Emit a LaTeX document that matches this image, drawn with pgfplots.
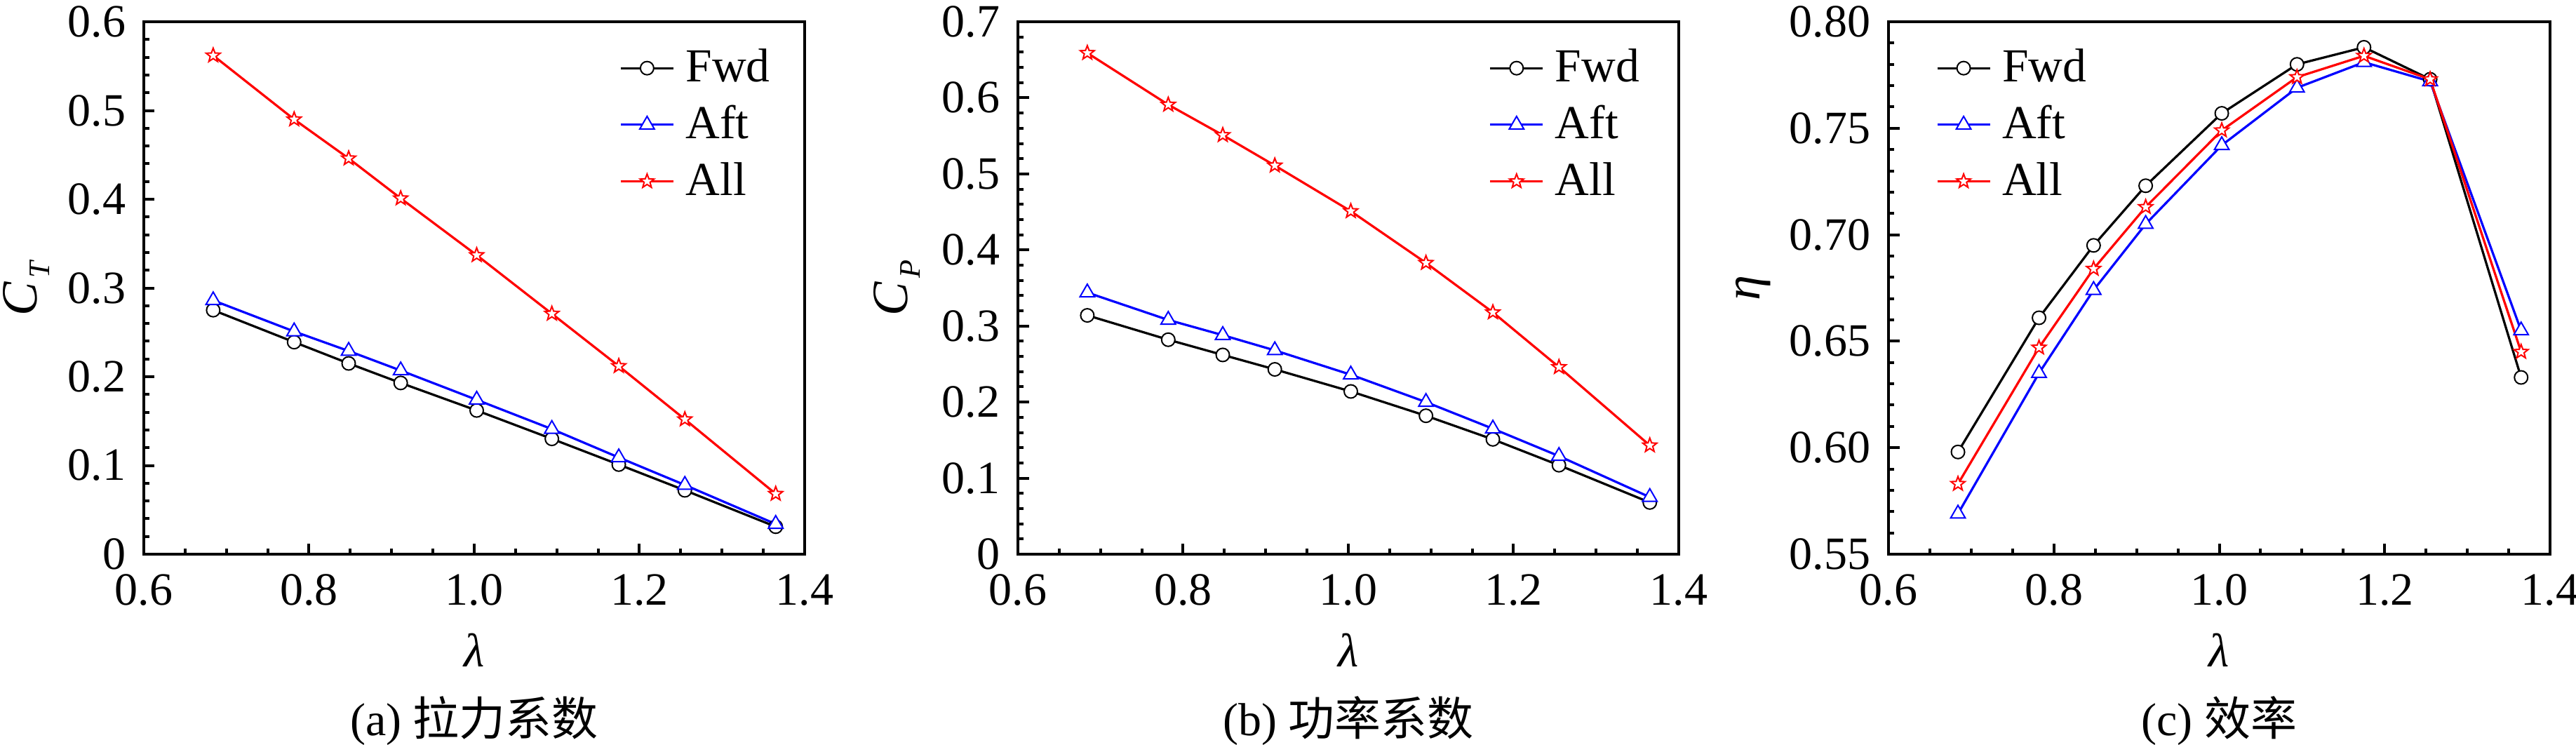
\documentclass[border=0pt]{standalone}
\usepackage{fontspec}
\setmainfont{Liberation Serif}
\newfontfamily\cjk{Noto Sans CJK SC}
\usepackage{pgfplots}
\pgfplotsset{compat=1.18}

\pgfdeclareplotmark{ostar}{%
  \pgfpathmoveto{\pgfpointpolar{90}{\pgfplotmarksize}}%
  \pgfpathlineto{\pgfpointpolar{126}{0.42\pgfplotmarksize}}%
  \pgfpathlineto{\pgfpointpolar{162}{\pgfplotmarksize}}%
  \pgfpathlineto{\pgfpointpolar{198}{0.42\pgfplotmarksize}}%
  \pgfpathlineto{\pgfpointpolar{234}{\pgfplotmarksize}}%
  \pgfpathlineto{\pgfpointpolar{270}{0.42\pgfplotmarksize}}%
  \pgfpathlineto{\pgfpointpolar{306}{\pgfplotmarksize}}%
  \pgfpathlineto{\pgfpointpolar{342}{0.42\pgfplotmarksize}}%
  \pgfpathlineto{\pgfpointpolar{18}{\pgfplotmarksize}}%
  \pgfpathlineto{\pgfpointpolar{54}{0.42\pgfplotmarksize}}%
  \pgfpathclose
  \pgfusepathqfillstroke
}

\pgfplotstableread{
lam    fwd    aft    all
0.684  0.275  0.286  0.562
0.782  0.239  0.251  0.490
0.848  0.215  0.229  0.446
0.911  0.193  0.207  0.401
1.003  0.162  0.174  0.337
1.094  0.130  0.141  0.271
1.175  0.101  0.109  0.212
1.255  0.072  0.078  0.152
1.365  0.031  0.034  0.068
}\tabCT

\pgfplotstableread{
lam    fwd    aft    all
0.684  0.314  0.344  0.659
0.782  0.282  0.308  0.591
0.848  0.262  0.288  0.551
0.911  0.243  0.268  0.511
1.003  0.214  0.236  0.451
1.094  0.182  0.200  0.383
1.175  0.151  0.165  0.318
1.255  0.117  0.129  0.246
1.365  0.068  0.075  0.143
}\tabCP

\pgfplotstableread{
lam    fwd    aft    all
0.684  0.598  0.569  0.583
0.782  0.661  0.635  0.647
0.848  0.695  0.674  0.684
0.911  0.723  0.705  0.713
1.003  0.757  0.742  0.749
1.094  0.780  0.769  0.774
1.175  0.788  0.781  0.784
1.255  0.773  0.772  0.773
1.365  0.633  0.655  0.645
}\tabEta

\newcommand{\sub}[1]{\kern1pt\raisebox{-3.6pt}{\fontsize{8.5}{9}\selectfont\textit{#1}}}

\pgfplotsset{
  myaxis/.style={
    scale only axis, width=188.4pt, height=151.8pt,
    clip=false,
    xmin=0.6, xmax=1.4, xtick={0.6,0.8,1.0,1.2,1.4},
    minor x tick num=3, minor y tick num=4,
    tick pos=left, tick align=inside,
    major tick length=3.1pt, minor tick length=1.6pt,
    every tick/.append style={black, line width=0.8pt},
    axis line style={line width=0.95pt},
    /pgf/number format/assume math mode=true,
    xticklabel style={/pgf/number format/.cd, fixed, fixed zerofill, precision=1, /tikz/.cd,
      font=\fontsize{13.2}{15}\selectfont, yshift=-2.2pt},
    yticklabel style={font=\fontsize{13.2}{15}\selectfont, xshift=-1.6pt},
    xlabel={\textit{λ}},
    x label style={at={(axis description cs:0.5,-0.1805)}, anchor=center, font=\fontsize{13.5}{15}\selectfont},
    y label style={anchor=center, font=\fontsize{14.5}{17}\selectfont},
    legend cell align=left,
    legend style={draw=none, fill=none, anchor=north west, inner sep=0pt,
      column sep=3.2pt, row sep=5.2pt,
      nodes={inner sep=0pt, font=\fontsize{13.5}{16}\selectfont}},
    legend image code/.code={\draw[mark repeat=2,mark phase=2] plot coordinates {(0pt,0pt)(7.5pt,0pt)(15pt,0pt)};},
  },
  fwd/.style={black, line width=0.65pt, mark=*, mark size=1.9pt, mark options={fill=white, line width=0.4pt}},
  aft/.style={blue, line width=0.65pt, mark=triangle*, mark size=2.4pt, mark options={fill=white, line width=0.4pt}},
  all/.style={red, line width=0.65pt, mark=ostar, mark size=2.1pt, mark options={fill=white, line width=0.4pt}},
}

\begin{document}
\begin{tikzpicture}
\path[use as bounding box] (0,0) rectangle (734.4pt,212.2pt);

\begin{axis}[myaxis, at={(41pt,54.2pt)}, anchor=south west,
  ymin=0, ymax=0.6, ytick={0,0.1,0.2,0.3,0.4,0.5,0.6},
  ylabel={\textit{C}\sub{T}},
  y label style={at={(axis description cs:-0.178,0.5)}},
  legend style={at={(0.719,0.95)}}]
\addplot[fwd] table[x=lam,y=fwd] {\tabCT};
\addlegendentry{Fwd}
\addplot[aft] table[x=lam,y=aft] {\tabCT};
\addlegendentry{Aft}
\addplot[all] table[x=lam,y=all] {\tabCT};
\addlegendentry{All}
\node[font=\fontsize{13.2}{15}\selectfont] at (axis description cs:0.5,-0.313) {(a) {\cjk 拉力系数}};
\end{axis}

\begin{axis}[myaxis, at={(290.2pt,54.2pt)}, anchor=south west,
  ymin=0, ymax=0.7, ytick={0,0.1,0.2,0.3,0.4,0.5,0.6,0.7},
  ylabel={\textit{C}\sub{P}},
  y label style={at={(axis description cs:-0.183,0.5)}},
  legend style={at={(0.712,0.95)}}]
\addplot[fwd] table[x=lam,y=fwd] {\tabCP};
\addlegendentry{Fwd}
\addplot[aft] table[x=lam,y=aft] {\tabCP};
\addlegendentry{Aft}
\addplot[all] table[x=lam,y=all] {\tabCP};
\addlegendentry{All}
\node[font=\fontsize{13.2}{15}\selectfont] at (axis description cs:0.5,-0.313) {(b) {\cjk 功率系数}};
\end{axis}

\begin{axis}[myaxis, at={(538.4pt,54.2pt)}, anchor=south west, width=188.6pt,
  ymin=0.55, ymax=0.80, ytick={0.55,0.60,0.65,0.70,0.75,0.80},
  yticklabel style={/pgf/number format/.cd, fixed, fixed zerofill, precision=2},
  ylabel={\textit{η}},
  y label style={at={(axis description cs:-0.204,0.5)}},
  legend style={at={(0.071,0.95)}}]
\addplot[fwd] table[x=lam,y=fwd] {\tabEta};
\addlegendentry{Fwd}
\addplot[aft] table[x=lam,y=aft] {\tabEta};
\addlegendentry{Aft}
\addplot[all] table[x=lam,y=all] {\tabEta};
\addlegendentry{All}
\node[font=\fontsize{13.2}{15}\selectfont] at (axis description cs:0.5,-0.313) {(c) {\cjk 效率}};
\end{axis}
\end{tikzpicture}
\end{document}
